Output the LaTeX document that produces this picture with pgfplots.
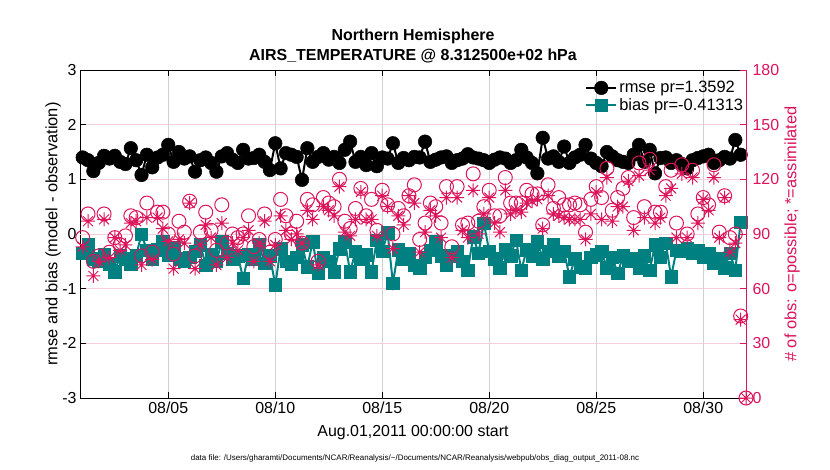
\documentclass[border=0pt]{standalone}
\usepackage{pgfplots}
\pgfplotsset{compat=1.18}
\usepackage{pgfplotstable}
\usepackage{fontspec}
\setmainfont{Liberation Sans}

\definecolor{obsmag}{RGB}{220,20,90}
\definecolor{biasteal}{RGB}{0,128,128}
\definecolor{gridpink}{RGB}{244,208,220}

% 8-armed asterisk like matlab's '*'
\pgfdeclareplotmark{ast8}{%
  \pgfpathmoveto{\pgfqpoint{-\pgfplotmarksize}{0pt}}\pgfpathlineto{\pgfqpoint{\pgfplotmarksize}{0pt}}%
  \pgfpathmoveto{\pgfqpoint{0pt}{-\pgfplotmarksize}}\pgfpathlineto{\pgfqpoint{0pt}{\pgfplotmarksize}}%
  \pgfpathmoveto{\pgfqpoint{-0.707\pgfplotmarksize}{-0.707\pgfplotmarksize}}\pgfpathlineto{\pgfqpoint{0.707\pgfplotmarksize}{0.707\pgfplotmarksize}}%
  \pgfpathmoveto{\pgfqpoint{-0.707\pgfplotmarksize}{0.707\pgfplotmarksize}}\pgfpathlineto{\pgfqpoint{0.707\pgfplotmarksize}{-0.707\pgfplotmarksize}}%
  \pgfusepathqstroke}

\newcommand\ft{\fontsize{16}{19}\selectfont}

% t = day of Aug 2011, 6-hourly
\pgfplotstableread{
t     rmse  bias   poss assim
1.00  1.40  -0.35  88   83
1.25  1.35  -0.20  101  97
1.50  1.15  -0.45  75   67
1.75  1.30  -0.50  78   75
2.00  1.43  -0.38  101  98
2.25  1.38  -0.55  80   77
2.50  1.43  -0.69  88   88
2.75  1.32  -0.40  84   81
3.00  1.28  -0.45  89   84
3.25  1.57  -0.55  100  96
3.50  1.35  -0.40  99   97
3.75  1.08  0.00   78   73
4.00  1.45  -0.30  107  99
4.25  1.22  -0.45  80   76
4.50  1.40  -0.29  102  99
4.75  1.45  -0.14  102  93
5.00  1.63  -0.38  90   86
5.25  1.32  -0.25  79   71
5.50  1.50  -0.45  97   87
5.75  1.38  -0.50  91   85
6.00  1.42  -0.42  108  107
6.25  1.14  -0.32  78   71
6.50  1.35  -0.20  91   84
6.75  1.40  -0.57  102  95
7.00  1.30  -0.38  92   88
7.25  1.14  -0.50  81   73
7.50  1.42  -0.14  106  96
7.75  1.48  -0.35  85   77
8.00  1.36  -0.45  90   85
8.25  1.30  -0.40  88   81
8.50  1.54  -0.81  90   88
8.75  1.38  -0.38  100  92
9.00  1.39  -0.45  83   75
9.25  1.45  -0.20  87   85
9.50  1.32  -0.54  101  97
9.75  1.17  -0.40  80   75
10.00 1.66  -0.93  87   84
10.25 1.20  -0.27  109  100
10.50 1.48  -0.50  100  92
10.75 1.45  -0.55  90   87
11.00 1.41  -0.42  97   90
11.25 0.99  -0.20  85   85
11.50 1.57  -0.60  109  103
11.75 1.32  -0.14  106  98
12.00 1.41  -0.72  75   73
12.25 1.48  -0.42  110  105
12.50 1.36  -0.50  107  103
12.75 1.41  -0.69  105  100
13.00 1.30  -0.27  120  116
13.25 1.54  -0.14  97   91
13.50 1.69  -0.69  93   89
13.75 1.32  -0.32  104  98
14.00 1.41  -0.45  115  113
14.25 1.26  -0.38  100  98
14.50 1.48  -0.69  109  98
14.75 1.24  -0.11  92   89
15.00 1.40  -0.32  114  111
15.25 1.38  0.02   106  105
15.50 1.66  -0.90  90   82
15.75 1.30  -0.29  104  100
16.00 1.39  -0.45  100  95
16.25 1.35  -0.35  111  111
16.50 1.41  -0.57  117  107
16.75 1.40  -0.62  87   80
17.00 1.69  -0.42  96   91
17.25 1.32  -0.30  107  103
17.50 1.36  -0.14  105  100
17.75 1.40  -0.40  96   88
18.00 1.42  -0.57  116  110
18.25 1.30  -0.40  83   77
18.50 1.35  -0.32  116  110
18.75 1.38  -0.50  95   92
19.00 1.46  -0.66  96   88
19.25 1.40  -0.05  123  114
19.50 1.38  -0.35  97   90
19.75 1.35  0.20   105  101
20.00 1.30  -0.32  114  110
20.25 1.36  -0.45  100  96
20.50 1.40  -0.62  100  91
20.75 1.38  -0.29  121  114
21.00 1.30  -0.40  107  101
21.25 1.35  -0.11  107  103
21.50 1.54  -0.66  107  102
21.75 1.40  -0.29  114  107
22.00 1.30  -0.40  112  108
22.25 1.11  -0.14  112  109
22.50 1.76  -0.45  95   93
22.75 1.38  -0.32  117  111
23.00 1.42  -0.20  104  101
23.25 1.32  -0.40  110  100
23.50 1.60  -0.32  106  99
23.75 1.30  -0.78  106  98
24.00 1.40  -0.45  107  98
24.25 1.45  -0.60  106  98
24.50 1.63  -0.62  91   87
24.75 1.38  -0.42  109  101
25.00 1.30  -0.38  116  113
25.25 1.24  -0.32  110  98
25.50 1.50  -0.62  126  121
25.75 1.42  -0.42  103  97
26.00 1.35  -0.72  110  105
26.25 1.32  -0.40  115  105
26.50 1.30  -0.50  121  119
26.75 1.45  -0.45  99   92
27.00 1.63  -0.62  129  122
27.25 1.32  -0.40  105  99
27.50 1.54  -0.66  131  125
27.75 1.11  -0.20  102  96
28.00 1.39  -0.42  102  99
28.25 1.40  -0.17  116  111
28.50 1.30  -0.78  125  115
28.75 1.35  -0.30  96   88
29.00 1.28  -0.32  128  123
29.25 1.20  -0.27  90   88
29.50 1.35  -0.35  125  121
29.75 1.39  -0.30  101  96
30.00 1.42  -0.42  110  109
30.25 1.45  -0.35  106  103
30.50 1.30  -0.54  128  121
30.75 1.35  -0.45  91   88
31.00 1.41  -0.62  111  110
31.25 1.38  -0.35  88   80
31.50 1.72  -0.66  90   85
31.75 1.45  0.22   45   43
32.00 nan   nan    0    0
}\obs

\begin{document}
\begin{tikzpicture}
\useasboundingbox (-80bp,-72bp) rectangle (750bp,398bp);

\begin{axis}[
    scale only axis,
    width=666bp, height=328bp,
    xmin=0.875, xmax=32,
    ymin=-3, ymax=3,
    xtick={5,10,15,20,25,30},
    xticklabels={08/05,08/10,08/15,08/20,08/25,08/30},
    ytick={-3,-2,-1,0,1,2,3},
    yticklabels={-3,-2,-1,0,1,2,3},
    ytick pos=left,
    tick align=inside,
    major tick length=6bp,
    tick style={black, line width=0.7bp},
    axis line style={black, line width=0.8bp},
    xmajorgrids, ymajorgrids,
    x grid style={black!18, line width=0.9bp},
    y grid style={gridpink, line width=0.9bp},
    extra y ticks={0},
    extra y tick labels={},
    extra y tick style={grid=major, major grid style={black!30, line width=2bp}, major tick length=0pt},
    tick label style={font=\ft},
    /pgf/number format/assume math mode=true,
    unbounded coords=discard,
    legend style={at={(1.002,0.978)}, anchor=north east, draw=none, fill=none,
        font=\fontsize{16.5}{19}\selectfont, row sep=0bp, inner sep=2bp},
    legend cell align=left,
    legend image code/.code={\draw[mark repeat=2,mark phase=2,#1] plot coordinates {(0bp,0bp) (15bp,0bp) (30bp,0bp)};},
]
\addplot[black, line width=2bp, mark=*, mark size=6.8bp, mark options={fill=black, line width=0.5bp}]
    table[x=t, y=rmse] {\obs};
\addlegendentry{rmse pr=1.3592}
\addplot[biasteal, line width=2bp, mark=square*, mark size=6.2bp, mark options={fill=biasteal, line width=0.5bp}]
    table[x=t, y=bias] {\obs};
\addlegendentry{bias pr=-0.41313}
\end{axis}

\begin{axis}[
    scale only axis,
    width=666bp, height=328bp,
    xmin=0.875, xmax=32,
    ymin=0, ymax=180,
    axis x line=none,
    axis y line*=right,
    axis line style={-},
    y axis line style={draw=obsmag, line width=0.8bp},
    ytick={0,30,60,90,120,150,180},
    yticklabels={0,30,60,90,120,150,180},
    tick align=inside,
    major tick length=6bp,
    ytick style={obsmag, line width=0.7bp},
    yticklabel style={obsmag, font=\ft, xshift=3bp},
    /pgf/number format/assume math mode=true,
    clip=false,
]
\addplot[only marks, obsmag, mark=o, mark size=7bp, mark options={line width=1bp}]
    table[x=t, y=poss] {\obs};
\addplot[only marks, obsmag, mark=ast8, mark size=7bp, mark options={line width=1bp}]
    table[x=t, y=assim] {\obs};
\end{axis}

% titles and labels
\node[font=\bfseries\ft] at (333bp,362bp) {Northern Hemisphere};
\node[font=\bfseries\ft] at (333bp,342bp) {AIRS\_TEMPERATURE @ 8.312500e+02 hPa};
\node[font=\fontsize{16.5}{19}\selectfont, rotate=90] at (-27bp,164bp) {rmse and bias (model - observation)};
\node[font=\fontsize{16.5}{19}\selectfont, rotate=90, text=obsmag] at (712bp,164bp) {\# of obs: o=possible; *=assimilated};
\node[font=\ft] at (333bp,-35bp) {Aug.01,2011 00:00:00 start};
\node[font=\fontsize{8}{9}\selectfont] at (335bp,-60bp)
    {data file: /Users/gharamti/Documents/NCAR/Reanalysis/\textasciitilde/Documents/NCAR/Reanalysis/webpub/obs\_diag\_output\_2011-08.nc};
\end{tikzpicture}
\end{document}
